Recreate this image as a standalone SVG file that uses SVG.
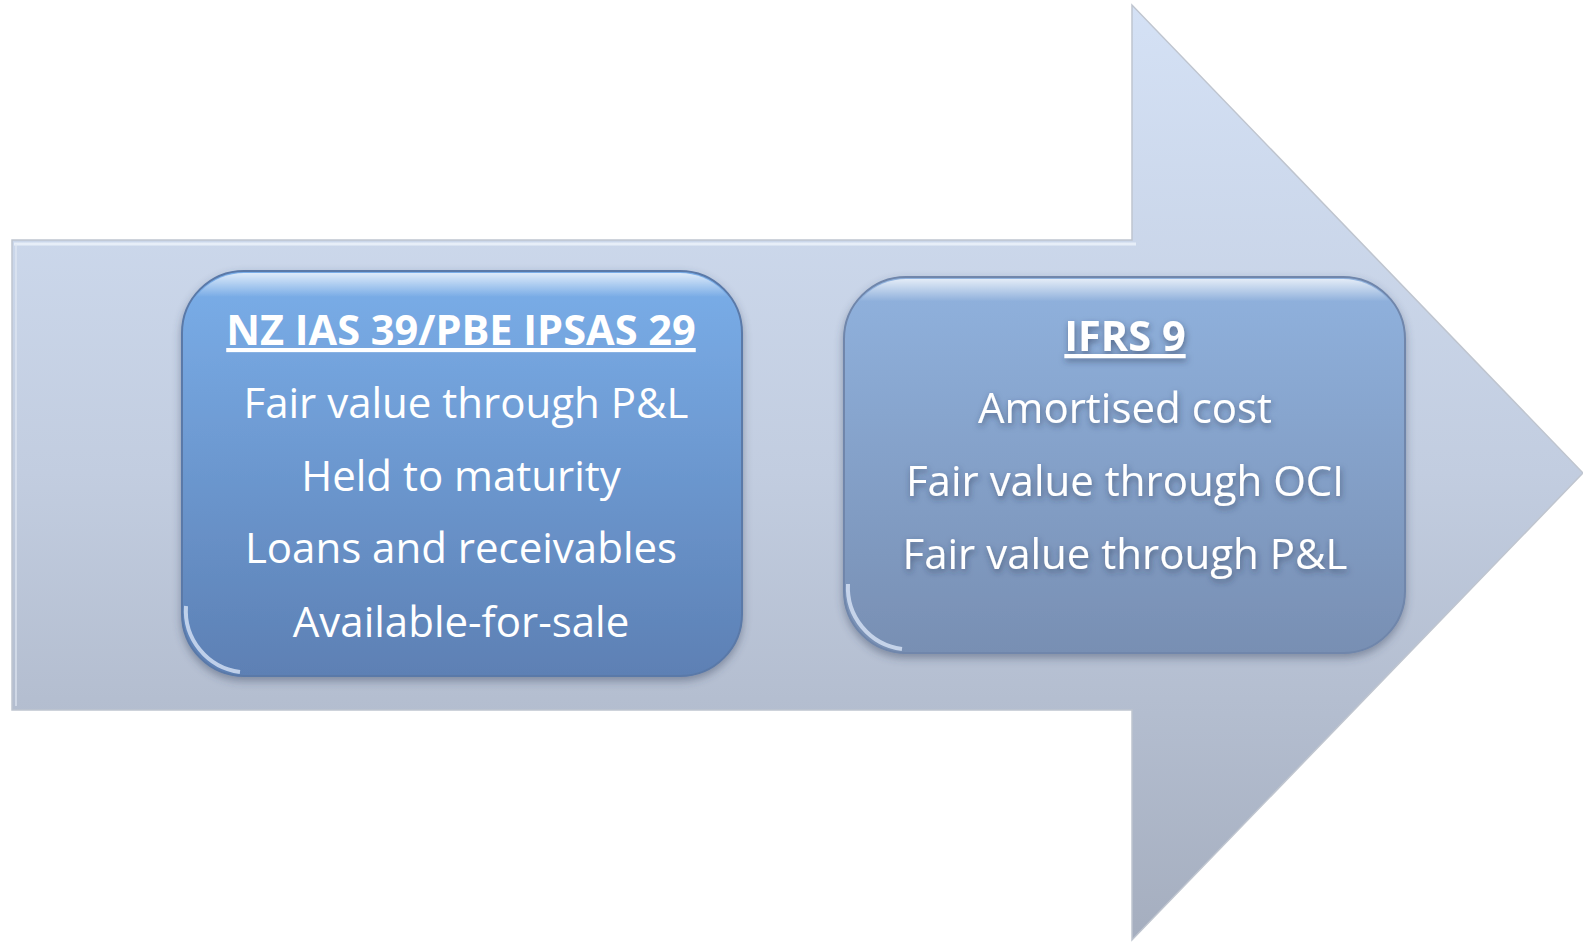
<svg xmlns="http://www.w3.org/2000/svg" width="1583" height="942" viewBox="0 0 1583 942">
<style>
.t{font-family:"Open Sans","Liberation Sans",sans-serif;fill:#ffffff;text-anchor:middle;font-size:42px}
.h{font-weight:bold;font-size:41.5px;text-decoration:underline}
.sh{filter:url(#txtsh)}
.bev{fill:none;stroke:#dfeafb;stroke-width:4;opacity:0.75}
</style>
<defs>
<linearGradient id="arrowG" x1="0" y1="5" x2="0" y2="940" gradientUnits="userSpaceOnUse">
<stop offset="0" stop-color="#d4e1f5"/>
<stop offset="0.5" stop-color="#c2cde0"/>
<stop offset="1" stop-color="#a5aebf"/>
</linearGradient>
<linearGradient id="leftG" x1="0" y1="0" x2="0" y2="1">
<stop offset="0" stop-color="#7aaee9"/>
<stop offset="1" stop-color="#5d80b4"/>
</linearGradient>
<linearGradient id="rightG" x1="0" y1="0" x2="0" y2="1">
<stop offset="0" stop-color="#90b2de"/>
<stop offset="1" stop-color="#788fb3"/>
</linearGradient>
<linearGradient id="hiG" x1="0" y1="0" x2="0" y2="1">
<stop offset="0" stop-color="#ffffff" stop-opacity="0.75"/>
<stop offset="0.06" stop-color="#ffffff" stop-opacity="0"/>
<stop offset="1" stop-color="#ffffff" stop-opacity="0"/>
</linearGradient>
<filter id="boxsh" x="-10%" y="-10%" width="120%" height="125%">
<feGaussianBlur in="SourceAlpha" stdDeviation="4"/>
<feOffset dx="0" dy="4" result="b"/>
<feFlood flood-color="#3a4660" flood-opacity="0.45"/>
<feComposite in2="b" operator="in"/>
<feMerge><feMergeNode/><feMergeNode in="SourceGraphic"/></feMerge>
</filter>
<filter id="txtsh" x="-10%" y="-30%" width="120%" height="160%">
<feGaussianBlur in="SourceAlpha" stdDeviation="3"/>
<feOffset dx="1" dy="3" result="b"/>
<feFlood flood-color="#2a3550" flood-opacity="0.55"/>
<feComposite in2="b" operator="in"/>
<feMerge><feMergeNode/><feMergeNode in="SourceGraphic"/></feMerge>
</filter>
</defs>
<rect width="1583" height="942" fill="#ffffff"/>
<g id="arrow">
<path d="M12,240 L1132,240 L1132,5 L1583,473 L1132,940 L1132,710 L12,710 Z" fill="url(#arrowG)" stroke="#bfc5cf" stroke-width="1.5"/>
<path d="M14,244 L1136,244" stroke="#eef4fc" stroke-width="3" opacity="0.8"/>
<path d="M16,244 L16,706" stroke="#e2e9f4" stroke-width="2" opacity="0.6"/>
</g>
<g id="node-left">
<rect x="182" y="271" width="560" height="405" rx="62" fill="url(#leftG)" stroke="#5a79a8" stroke-width="2" filter="url(#boxsh)"/>
<rect x="184" y="273" width="556" height="401" rx="60" fill="url(#hiG)"/>
<path class="bev" d="M186,606 A62,62 0 0 0 240,672"/>
<text class="t h" x="461" y="345">NZ IAS 39/PBE IPSAS 29</text>
<text class="t" x="466" y="418">Fair value through P&amp;L</text>
<text class="t" x="461" y="491">Held to maturity</text>
<text class="t" x="461" y="563">Loans and receivables</text>
<text class="t" x="461" y="637">Available-for-sale</text>
</g>
<g id="node-right">
<rect x="844" y="277" width="561" height="376" rx="62" fill="url(#rightG)" stroke="#6f86ab" stroke-width="2" filter="url(#boxsh)"/>
<rect x="846" y="279" width="557" height="372" rx="60" fill="url(#hiG)"/>
<path class="bev" d="M848,584 A62,62 0 0 0 902,649"/>
<text class="t h sh" x="1125" y="351">IFRS 9</text>
<text class="t sh" x="1125" y="423">Amortised cost</text>
<text class="t sh" x="1125" y="496">Fair value through OCI</text>
<text class="t sh" x="1125" y="569">Fair value through P&amp;L</text>
</g>
</svg>
